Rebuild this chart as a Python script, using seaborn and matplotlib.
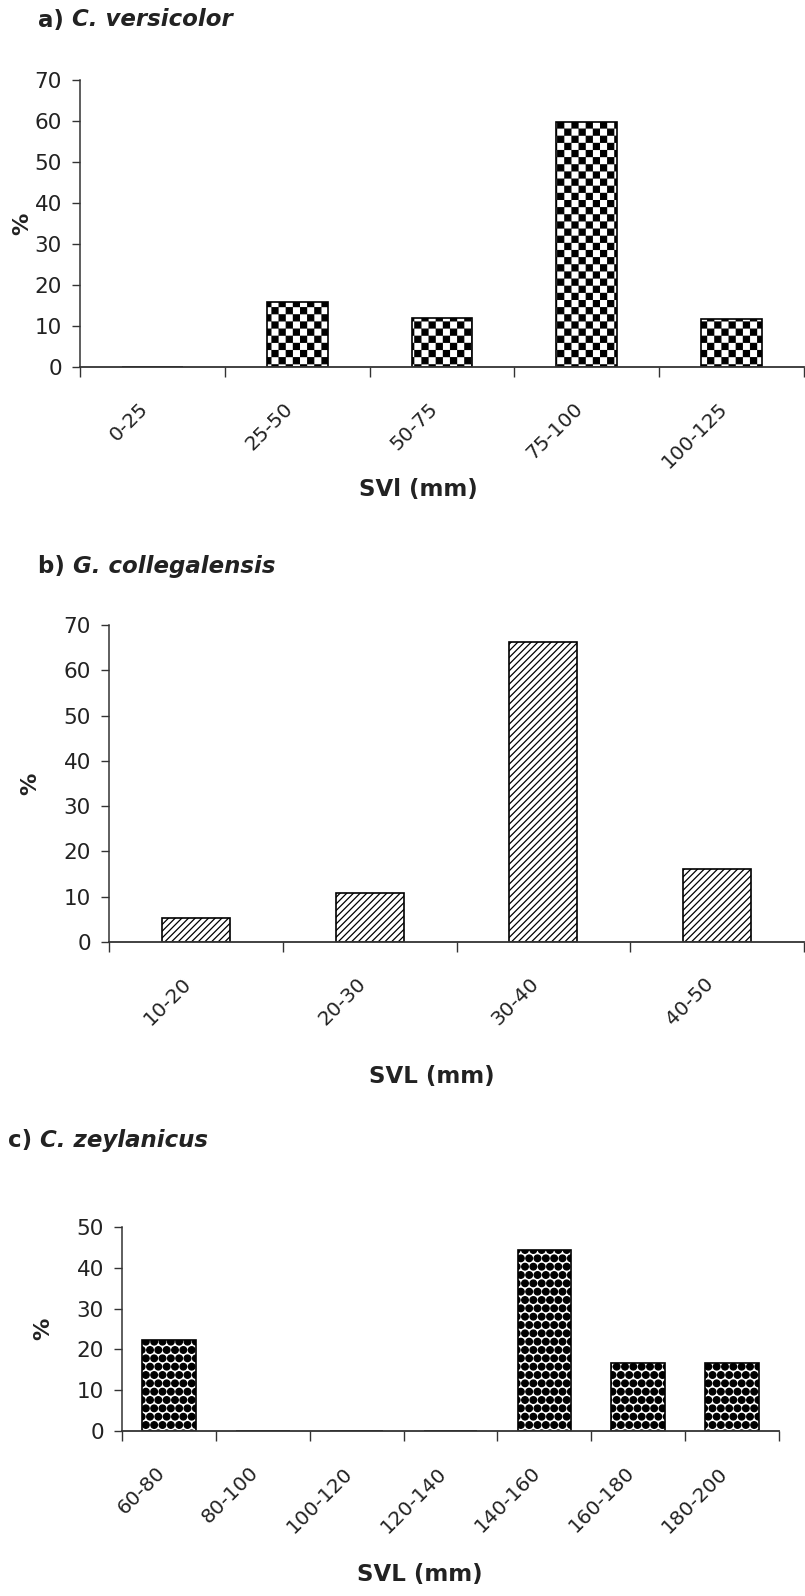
import numpy as np
import matplotlib
matplotlib.use("Agg")
import matplotlib.pyplot as plt
import matplotlib.hatch as mhatch
import matplotlib.transforms as mtrans
from matplotlib.path import Path
import seaborn as sns

# ---------------- data ----------------
a_bins = ["0-25", "25-50", "50-75", "75-100", "100-125"]
a_pct = [0, 15.9, 12.0, 59.7, 11.7]

b_bins = ["10-20", "20-30", "30-40", "40-50"]
b_pct = [5.4, 10.9, 66.3, 16.1]

c_bins = ["60-80", "80-100", "100-120", "120-140", "140-160", "160-180", "180-200"]
c_pct = [22.3, 0, 0, 0, 44.4, 16.7, 16.7]

a_title = ("a)", "C. versicolor")
b_title = ("b)", "G. collegalensis")
c_title = ("c)", "C. zeylanicus")
a_xlabel = "SVl (mm)"
b_xlabel = "SVL (mm)"
c_xlabel = "SVL (mm)"
ylabel = "%"


# ---------------- custom checkerboard hatch (uses '*') ----------------
class CheckerHatch(mhatch.HatchPatternBase):
    cells = 14

    def __init__(self, hatch, density):
        on = hatch.count("*") > 0
        n = self.cells
        self.nsq = (n * n) // 2 if on else 0
        self.num_vertices = self.nsq * 5

    def set_vertices_and_codes(self, vertices, codes):
        n = self.cells
        s = 1.0 / n
        sh = 0.08 * s
        verts, cds = [], []
        for i in range(n):
            for j in range(n):
                if (i + j) % 2 == 0:
                    x0, y0 = i * s + sh, j * s + sh
                    x1, y1 = (i + 1) * s - sh, (j + 1) * s - sh
                    verts += [(x0, y0), (x1, y0), (x1, y1), (x0, y1), (x0, y0)]
                    cds += [Path.MOVETO, Path.LINETO, Path.LINETO, Path.LINETO, Path.CLOSEPOLY]
        vertices[:] = np.array(verts)
        codes[:] = np.array(cds)


mhatch._hatch_types[:] = [t for t in mhatch._hatch_types if t is not mhatch.Stars] + [CheckerHatch]
mhatch.SmallFilledCircles.size = 0.40

# ---------------- style ----------------
sns.set_style("ticks")
plt.rcParams["font.family"] = ["DejaVu Sans"]
plt.rcParams["hatch.linewidth"] = 0.9
TXT = "#222222"
SPINE = "#333333"

W, H = 805, 1596
fig = plt.figure(figsize=(W / 100, H / 100), dpi=100)


def fx(px):
    return px / W


def fy(py):
    return 1 - py / H


def panel(rect_px, bins, vals, ymax, ystep, width, hatch, title, tpos, xlabel, xlpos, ylab_x):
    left, right, top, bottom = rect_px
    ax = fig.add_axes([fx(left), fy(bottom), (right - left) / W, (bottom - top) / H])
    sns.barplot(x=bins, y=vals, order=bins, ax=ax, color="white", edgecolor="black",
                linewidth=1.2, width=width, saturation=1)
    for p in ax.patches:
        p.set_hatch(hatch)
    n = len(bins)
    ax.set_xlim(-0.5, n - 0.5)
    ax.set_ylim(0, ymax)
    ax.set_yticks(np.arange(0, ymax + 0.1, ystep))
    ax.tick_params(axis="y", length=6, width=1, color=SPINE, pad=7, labelsize=15.5, labelcolor=TXT)
    ax.set_xticks(np.arange(n + 1) - 0.5, labels=[""] * (n + 1))
    ax.set_xticks(np.arange(n), labels=bins, minor=True)
    ax.tick_params(axis="x", which="major", length=7, width=1, color=SPINE)
    ax.tick_params(axis="x", which="minor", length=0, pad=28, labelsize=14.5, labelcolor=TXT)
    shift = mtrans.ScaledTranslation(-7 / 100, 0, fig.dpi_scale_trans)
    for lab in ax.get_xticklabels(minor=True):
        lab.set_rotation(45)
        lab.set_ha("right")
        lab.set_va("center")
        lab.set_rotation_mode("anchor")
        lab.set_transform(lab.get_transform() + shift)
    ax.set_xlabel("")
    ax.set_ylabel("")
    sns.despine(ax=ax)
    ax.spines["left"].set_color(SPINE)
    ax.spines["bottom"].set_color(SPINE)
    ax.spines["left"].set_linewidth(1.1)
    ax.spines["bottom"].set_linewidth(1.3)
    ax.patch.set_alpha(0)
    ax.text(ylab_x, 0.5, ylabel, transform=ax.transAxes, rotation=90, ha="center", va="center",
            fontsize=16, fontweight="bold", color=TXT)
    t1 = fig.text(fx(tpos[0]), fy(tpos[1]), title[0] + " ", ha="left", va="center",
                  fontsize=16.5, fontweight="bold", color=TXT)
    ax.annotate(title[1], xy=(1, 0), xycoords=t1, va="bottom", ha="left",
                fontsize=16.5, fontweight="bold", fontstyle="italic", color=TXT)
    fig.text(fx(xlpos[0]), fy(xlpos[1]), xlabel, ha="center", va="center",
             fontsize=16.5, fontweight="bold", color=TXT)
    return ax


panel((80, 804, 80, 367), a_bins, a_pct, 70, 10, 0.42, "*", a_title, (38, 20),
      a_xlabel, (418, 489), -0.080)
panel((109, 804, 625, 942), b_bins, b_pct, 70, 10, 0.39, "/////", b_title, (38, 566),
      b_xlabel, (432, 1077), -0.1135)
panel((122, 779, 1227, 1431), c_bins, c_pct, 50, 10, 0.57, "..", c_title, (8, 1140),
      c_xlabel, (420, 1575), -0.120)

fig.savefig("out.png", dpi=100, facecolor="white")
